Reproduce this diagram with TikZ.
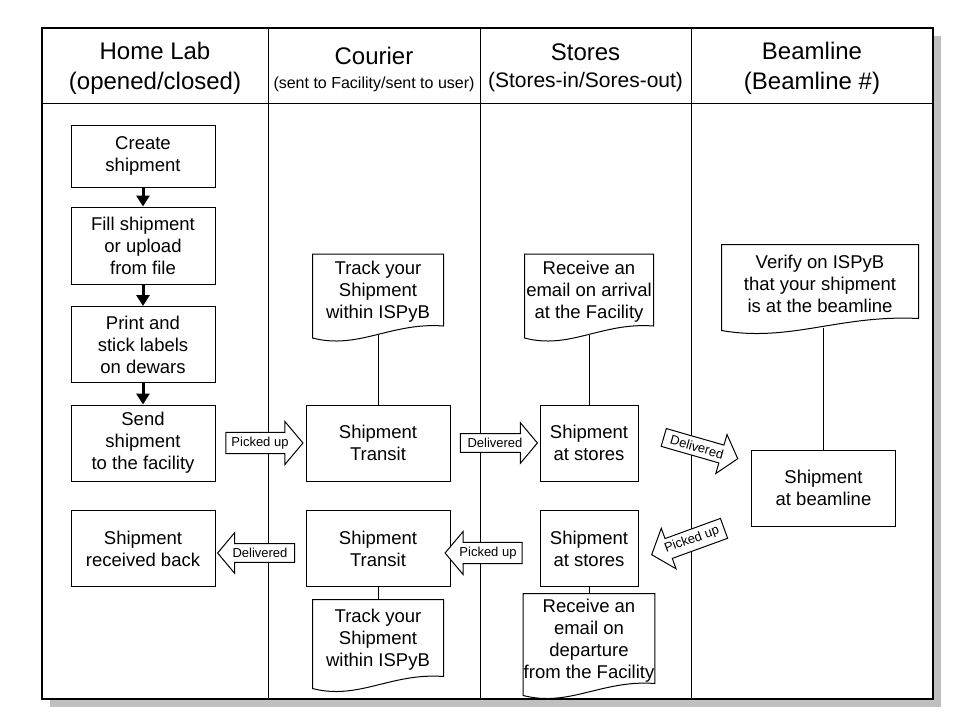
\documentclass[tikz,border=0pt]{standalone}
\usepackage{fontspec}
\setmainfont{Liberation Sans}
\usetikzlibrary{positioning,calc,shapes.arrows,arrows.meta}
\tikzset{box/.style={draw,minimum width=144pt,minimum height=76pt,align=center,inner sep=2pt,font=\fontsize{18.5}{22}\selectfont}}
\tikzset{doc/.style={minimum width=130pt,minimum height=75pt,align=center,inner sep=0pt,font=\fontsize{18.5}{22}\selectfont}}
\tikzset{head/.style={align=center,font=\fontsize{24}{30}\selectfont}}
\tikzset{bigarrow/.style={single arrow,draw,fill=white,minimum height=77pt,single arrow head extend=11pt,single arrow tip angle=100,inner sep=4pt,font=\fontsize{13}{15}\selectfont}}
\tikzset{flow/.style={line width=3pt,-{Triangle[width=13pt,length=11pt]}}}
\newcommand{\docframe}[1]{\draw ($(#1.south west)+(0,8)$) .. controls ($(#1.south west)!0.35!(#1.south east)+(0,20)$) and ($(#1.south west)!0.6!(#1.south east)+(0,-8)$) .. ($(#1.south east)+(0,-4)$) -- (#1.north east) -- (#1.north west) -- cycle;}

\begin{document}
\begin{tikzpicture}[x=1pt,y=-1pt,line width=1pt]
\useasboundingbox (0,0) rectangle (960,720);
% swimlanes
\fill[gray!50] (50,36) rectangle (941,707);
\draw[fill=white,line width=1.5pt] (42,28) rectangle (933,699);
\draw (42,103) -- (933,103);
\foreach \x in {268,480,691}
	\draw (\x,28) -- (\x,699);
\node[head] (hlab) at (155,68) {Home Lab\\(opened/closed)};
\node[head] (hcour) at (374,69) {Courier\\[-6pt]{\fontsize{16}{18}\selectfont (sent to Facility/sent to user)}};
\node[head] (hstore) at (585.5,68) {Stores\\[-3pt]{\fontsize{21}{24}\selectfont (Stores-in/Sores-out)}};
\node[head] (hbeam) at (812,68) {Beamline\\(Beamline \#)};

% home lab
\node[box,minimum height=62pt] (create) at (143,156) {Create\\shipment};
\node[box,minimum height=77pt] (fill) at (143,245.5) {Fill shipment\\or upload\\ from file};
\node[box] (print) at (143,344.5) {Print and\\stick labels\\on dewars};
\node[box] (send) at (143,443) {Send\\shipment\\to the facility};
\node[box] (back) at (143,548.5) {Shipment\\received back};
\draw[flow] (create) -- (fill);
\draw[flow] (fill) -- (print);
\draw[flow] (print) -- (send);

% courier
\node[box] (transit1) at (378,443) {Shipment\\Transit};
\node[box] (transit2) at (378,548.5) {Shipment\\Transit};
\node[doc] (track1) at (378,292) {Track your\\Shipment\\within ISPyB};
\node[doc,minimum height=80pt] (track2) at (378,640) {Track your\\Shipment\\within ISPyB};
\docframe{track1}
\docframe{track2}
\draw ($(track1.south)+(0,5)$) -- (transit1.north);
\draw (transit2.south) -- (track2.north);

% stores
\node[box,minimum width=98pt] (stores1) at (589,443) {Shipment\\at stores};
\node[box,minimum width=98pt] (stores2) at (589,548.5) {Shipment\\at stores};
\node[doc,minimum width=128pt] (arrival) at (589,292) {Receive an\\email on arrival\\at the Facility};
\node[doc,minimum width=128pt,minimum height=93pt] (departure) at (589,640.5) {Receive an\\email on\\departure\\from the Facility};
\docframe{arrival}
\docframe{departure}
\draw ($(arrival.south)+(0,5)$) -- (stores1.north);
\draw (stores2.south) -- (departure.north);

% beamline
\node[doc,minimum width=196pt,minimum height=77pt] (verify) at (820,283.5) {Verify on ISPyB\\that your shipment\\ is at the beamline};
\node[box] (atbl) at (823.5,488) {Shipment\\at beamline};
\docframe{verify}
\draw ($(atbl.north |- verify.south)+(0,5)$) -- (atbl.north);

% hand-overs
\node[bigarrow] (pick1) at (260,443) {Picked up};
\node[bigarrow] (deliv1) at (495,443) {Delivered};
\node[bigarrow,shape border rotate=180] (deliv2) at (260,553) {Delivered};
\node[bigarrow,shape border rotate=180] (pick2) at (488,553) {Picked up};
\node[bigarrow,rotate=-16] (deliv3) at (697,447) {Delivered};
\node[bigarrow,shape border rotate=180,rotate=20] (pick3) at (692,540) {Picked up};
\end{tikzpicture}
\end{document}
